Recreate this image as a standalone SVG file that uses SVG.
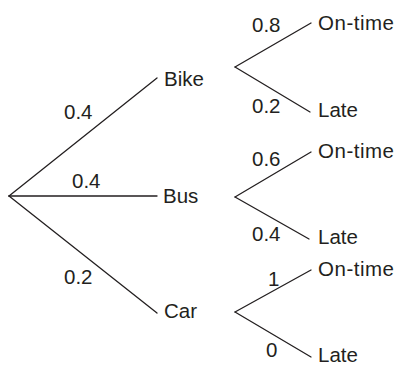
<svg xmlns="http://www.w3.org/2000/svg" width="396" height="365" viewBox="0 0 396 365">
<style>
.e{stroke:#231f20;stroke-width:1.3;fill:none;stroke-linecap:round}
text{font-family:"Liberation Sans",Arial,sans-serif;font-size:20.5px;fill:#231f20}
</style>
<rect width="396" height="365" fill="#fff"/>
<g id="connectors">
<line class="e" x1="9" y1="196" x2="157" y2="78"/>
<line class="e" x1="9" y1="196" x2="157" y2="196"/>
<line class="e" x1="9" y1="196" x2="157" y2="313"/>
<line class="e" x1="235" y1="67" x2="311" y2="23"/>
<line class="e" x1="235" y1="67" x2="310" y2="112"/>
<line class="e" x1="235" y1="197" x2="311" y2="152"/>
<line class="e" x1="235" y1="197" x2="309" y2="239"/>
<line class="e" x1="235" y1="312" x2="311" y2="270"/>
<line class="e" x1="235" y1="312" x2="311" y2="357"/>
</g>
<g id="labels">
<text x="64" y="119">0.4</text>
<text x="72" y="188">0.4</text>
<text x="64" y="284">0.2</text>
<text x="252" y="32">0.8</text>
<text x="252" y="113">0.2</text>
<text x="252" y="166">0.6</text>
<text x="252" y="241">0.4</text>
<text x="268" y="286">1</text>
<text x="266" y="357">0</text>
</g>
<g id="root"/>
<g id="bike"><text x="164" y="86">Bike</text></g>
<g id="bus"><text x="163" y="203">Bus</text></g>
<g id="car"><text x="164" y="318">Car</text></g>
<g id="bike-ontime"><text x="318" y="30" textLength="76">On-time</text></g>
<g id="bike-late"><text x="318" y="117">Late</text></g>
<g id="bus-ontime"><text x="318" y="158" textLength="76">On-time</text></g>
<g id="bus-late"><text x="318" y="244">Late</text></g>
<g id="car-ontime"><text x="318" y="276" textLength="76">On-time</text></g>
<g id="car-late"><text x="318" y="362">Late</text></g>
</svg>
